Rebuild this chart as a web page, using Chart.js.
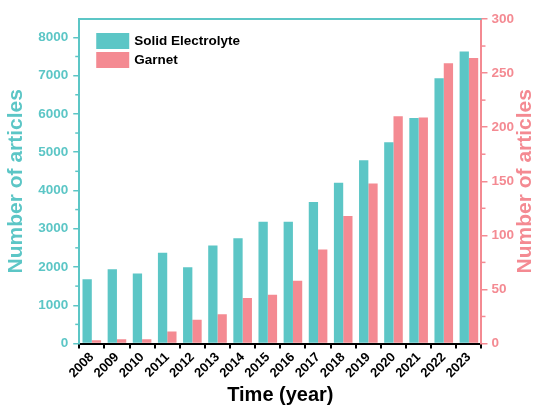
<!DOCTYPE html>
<html>
<head>
<meta charset="utf-8">
<script src="https://cdn.jsdelivr.net/npm/chart.js@4/dist/chart.umd.min.js"></script>
<style>
  html, body { margin: 0; padding: 0; background: #fff; }
  #wrap { width: 539px; height: 412px; }
</style>
</head>
<body>
<div id="wrap"><canvas id="myChart"></canvas></div>
<script>
  // data
  var years = ['2008', '2009', '2010', '2011', '2012', '2013', '2014', '2015',
               '2016', '2017', '2018', '2019', '2020', '2021', '2022', '2023'];
  var solidElectrolyte = [1680, 1940, 1830, 2370, 1990, 2560, 2750, 3180,
                          3180, 3700, 4200, 4790, 5260, 5890, 6930, 7630];
  var garnet = [3, 4, 4, 11, 22, 27, 42, 45, 58, 87, 118, 148, 210, 209, 259, 264];
  var leftTicks = [0, 1000, 2000, 3000, 4000, 5000, 6000, 7000, 8000];
  var rightTicks = [0, 50, 100, 150, 200, 250, 300];

  var teal = '#5CC6C6';
  var pink = '#F48A92';
  var font = "'Liberation Sans', Arial, sans-serif";

  // minor ticks, top frame line, right title and the inner legend
  var extras = {
    id: 'extras',
    afterDraw: function (chart) {
      var ctx = chart.ctx;
      var a = chart.chartArea;
      var y = chart.scales.y, y1 = chart.scales.y1;
      ctx.save();
      ctx.lineWidth = 2;
      ctx.strokeStyle = teal;
      ctx.beginPath();
      ctx.moveTo(a.left - 1, a.top);
      ctx.lineTo(a.right, a.top);
      ctx.stroke();

      ctx.lineWidth = 1.5;
      for (var v = 500; v < y.max; v += 1000) {
        var py = y.getPixelForValue(v);
        ctx.beginPath();
        ctx.moveTo(a.left - 4, py);
        ctx.lineTo(a.left, py);
        ctx.stroke();
      }
      ctx.strokeStyle = pink;
      for (var w = 25; w < y1.max; w += 50) {
        var qy = y1.getPixelForValue(w);
        ctx.beginPath();
        ctx.moveTo(a.right, qy);
        ctx.lineTo(a.right + 4, qy);
        ctx.stroke();
      }

      // right axis title, reading bottom to top like the left one
      ctx.save();
      ctx.translate(chart.width - 14, (a.top + a.bottom) / 2);
      ctx.rotate(-Math.PI / 2);
      ctx.fillStyle = pink;
      ctx.font = 'bold 21px ' + font;
      ctx.textAlign = 'center';
      ctx.textBaseline = 'middle';
      ctx.fillText('Number of articles', 0, 0);
      ctx.restore();

      // legend
      var lx = a.left + 17, ly = a.top + 14;
      chart.data.datasets.forEach(function (ds, i) {
        ctx.fillStyle = ds.backgroundColor;
        ctx.fillRect(lx, ly + i * 19, 33, 16);
        ctx.fillStyle = '#000';
        ctx.font = 'bold 13.5px ' + font;
        ctx.textBaseline = 'middle';
        ctx.textAlign = 'left';
        ctx.fillText(ds.label, lx + 38, ly + i * 19 + 8);
      });
      ctx.restore();
    }
  };

  new Chart('myChart', {
    type: 'bar',
    data: {
      labels: years,
      datasets: [{
        label: 'Solid Electrolyte',
        data: solidElectrolyte,
        backgroundColor: teal,
        yAxisID: 'y'
      }, {
        label: 'Garnet',
        data: garnet,
        backgroundColor: pink,
        yAxisID: 'y1'
      }]
    },
    options: {
      responsive: true,
      maintainAspectRatio: false,
      animation: false,
      layout: { padding: { top: 19, right: 21, left: 4, bottom: 1 } },
      plugins: {
        legend: { display: false },
        tooltip: { enabled: false }
      },
      datasets: {
        bar: { categoryPercentage: 0.74, barPercentage: 1.0 }
      },
      scales: {
        x: {
          grid: { display: true, drawOnChartArea: false, tickLength: 5, color: '#000', lineWidth: 2 },
          border: { color: '#000', width: 2 },
          ticks: {
            color: '#000',
            font: { family: font, weight: 'bold', size: 13 },
            minRotation: 45, maxRotation: 45, autoSkip: false, padding: 1
          },
          title: {
            display: true, text: 'Time (year)', color: '#000',
            font: { family: font, weight: 'bold', size: 20 }, padding: { top: 1 }
          }
        },
        y: {
          position: 'left',
          min: 0, max: 8480,
          afterBuildTicks: function (s) {
            s.ticks = leftTicks.map(function (v) { return { value: v }; });
          },
          grid: { drawOnChartArea: false, tickLength: 6, color: teal, lineWidth: 1.5 },
          border: { color: teal, width: 2 },
          ticks: {
            color: teal, font: { family: font, weight: 'bold', size: 13.5 }, padding: 5,
            callback: function (v) { return String(v); }
          },
          title: {
            display: true, text: 'Number of articles', color: teal,
            font: { family: font, weight: 'bold', size: 21 }, padding: { top: 0, bottom: 4 }
          }
        },
        y1: {
          position: 'right',
          min: 0, max: 300,
          afterBuildTicks: function (s) {
            s.ticks = rightTicks.map(function (v) { return { value: v }; });
          },
          grid: { drawOnChartArea: false, tickLength: 6, color: pink, lineWidth: 1.5 },
          border: { color: pink, width: 2 },
          ticks: {
            color: pink, font: { family: font, weight: 'bold', size: 13.5 }, padding: 4,
            callback: function (v) { return String(v); }
          }
        }
      }
    },
    plugins: [extras]
  });
</script>
</body>
</html>
